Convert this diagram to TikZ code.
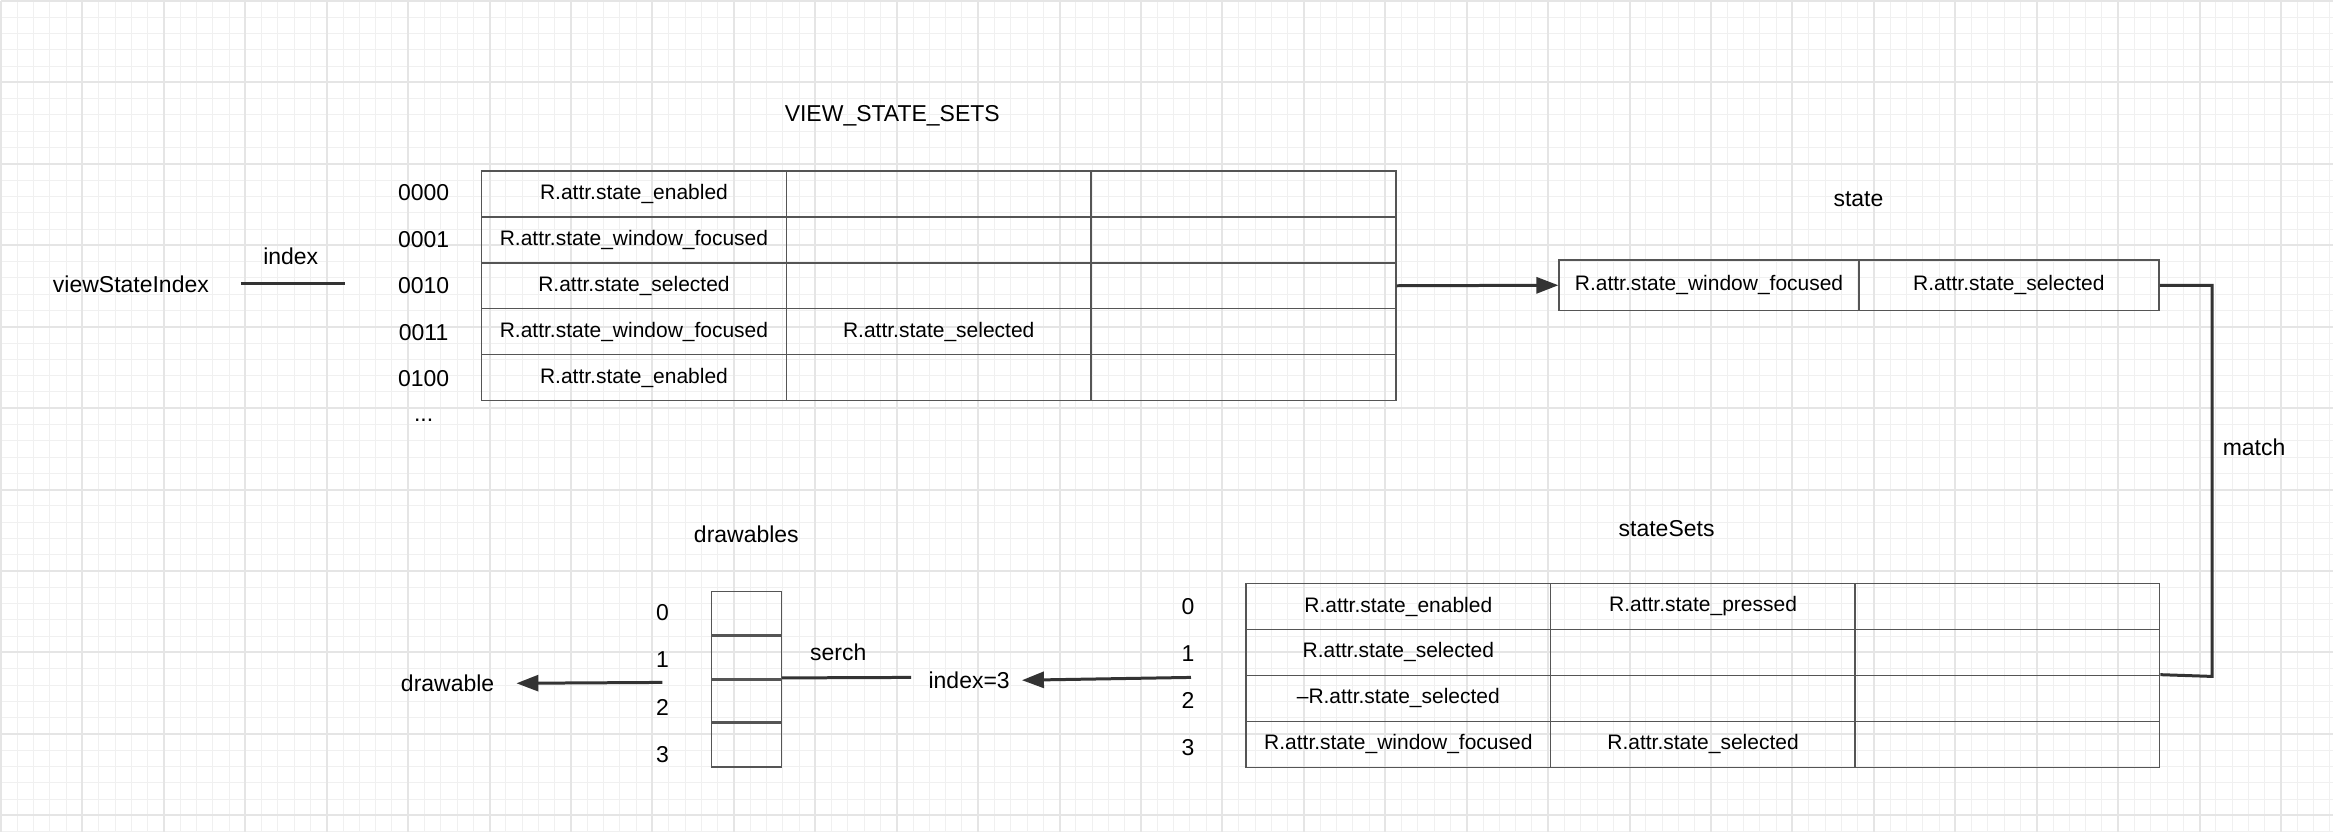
\documentclass[tikz,border=0pt]{standalone}
\usepackage{fontspec}
\setmainfont{Liberation Sans}
\usetikzlibrary{arrows.meta}
\definecolor{linegray}{HTML}{555555}
\definecolor{arrowgray}{HTML}{333333}
\begin{document}
\begin{tikzpicture}
[x=1pt,y=-1pt,
cell/.style={rectangle,draw=linegray,line width=1.5pt,minimum width=305pt,minimum height=46pt,inner sep=0pt,font=\fontsize{21}{25}\selectfont},
dcell/.style={rectangle,draw=linegray,line width=1.5pt,minimum width=70pt,minimum height=45pt,inner sep=0pt},
lbl/.style={font=\fontsize{23}{27}\selectfont,inner sep=0pt},
conn/.style={draw=arrowgray,line width=3pt},
arr/.style={conn,-{Triangle[length=22pt,width=16pt]}}]
% background
\fill[white] (0,0) rectangle (2334,832);
\foreach \k in {0,...,143}{
  \draw[gray!12,line width=1pt] ({16.3*\k},0) -- ({16.3*\k},832);
}
\foreach \k in {0,...,51}{
  \draw[gray!12,line width=1pt] (0,{16.3*\k}) -- (2334,{16.3*\k});
}
\foreach \k in {0,...,28}{
  \draw[gray!20,line width=2pt] ({81.5*\k},0) -- ({81.5*\k},832);
}
\foreach \k in {0,...,10}{
  \draw[gray!20,line width=2pt] (0,{81.5*\k}) -- (2334,{81.5*\k});
}
% VIEW_STATE_SETS
\node[lbl] (vsstitle) at (892,115) {VIEW\_STATE\_SETS};
\foreach \r/\a/\b [count=\i] in {0000/R.attr.state\_enabled/,0001/R.attr.state\_window\_focused/,0010/R.attr.state\_selected/,0011/R.attr.state\_window\_focused/R.attr.state\_selected,0100/R.attr.state\_enabled/}{
  \node[cell] (v\i a) at (633.5,{170+46*(\i-0.5)}) {\a};
  \node[cell] (v\i b) at (938.5,{170+46*(\i-0.5)}) {\b};
  \node[cell] (v\i c) at (1243.5,{170+46*(\i-0.5)}) {};
  \node[lbl] (vl\i) at (423,{192+46.5*(\i-1)}) {\r};
}
\node[lbl] (vdots) at (423,420) {...};
\node[lbl] (vsi) at (130,284) {viewStateIndex};
\node[lbl] (idx) at (290,256) {index};
\coordinate (il) at (240,283);
\coordinate (ir) at (344,283);
\draw[conn] (il) -- (ir);
% state
\node[lbl] (statetitle) at (1859,198) {state};
\node[cell,minimum width=300pt,minimum height=51pt] (s1) at (1709.5,284.5) {R.attr.state\_window\_focused};
\node[cell,minimum width=301pt,minimum height=51pt] (s2) at (2009.5,284.5) {R.attr.state\_selected};
\draw[arr] (v3c.east) -- (s1.west);
% stateSets
\node[lbl] (sstitle) at (1667,528) {stateSets};
\foreach \a/\b [count=\i] in {R.attr.state\_enabled/R.attr.state\_pressed,R.attr.state\_selected/,--R.attr.state\_selected/,R.attr.state\_window\_focused/R.attr.state\_selected}{
  \node[cell] (t\i a) at (1398.5,{583+46*(\i-0.5)}) {\a};
  \node[cell] (t\i b) at (1703.5,{583+46*(\i-0.5)}) {\b};
  \node[cell] (t\i c) at (2008,{583+46*(\i-0.5)}) {};
  \node[lbl] (tl\i) at (1188,{606+47*(\i-1)}) {\the\numexpr\i-1\relax};
}
\coordinate (mturn1) at (2213,284.5);
\coordinate (mturn2) at (2213,676);
\draw[conn] (s2.east) -- (mturn1) -- (mturn2) -- (t3c.north east);
\node[lbl] (match) at (2255,447) {match};
% drawables
\node[lbl] (dtitle) at (746,534) {drawables};
\foreach \i in {0,...,3}{
  \node[dcell] (d\i) at (746,{592+43.5*(\i+0.5)}) {};
  \node[lbl] (dl\i) at (662,{612+47.5*\i}) {\i};
}
\node[lbl] (idx3) at (969,680) {index=3};
\coordinate (sfrom) at (1191,677);
\draw[arr,shorten >=12pt] (sfrom) -- (idx3.east);
\node[lbl] (serch) at (838,652) {serch};
\coordinate (srch) at (911,677);
\draw[conn] (d2.north east) -- (srch);
\node[lbl] (dr) at (447,683) {drawable};
\coordinate (dfrom) at (662,682);
\draw[arr,shorten >=22pt] (dfrom) -- (dr.east);
\end{tikzpicture}
\end{document}
